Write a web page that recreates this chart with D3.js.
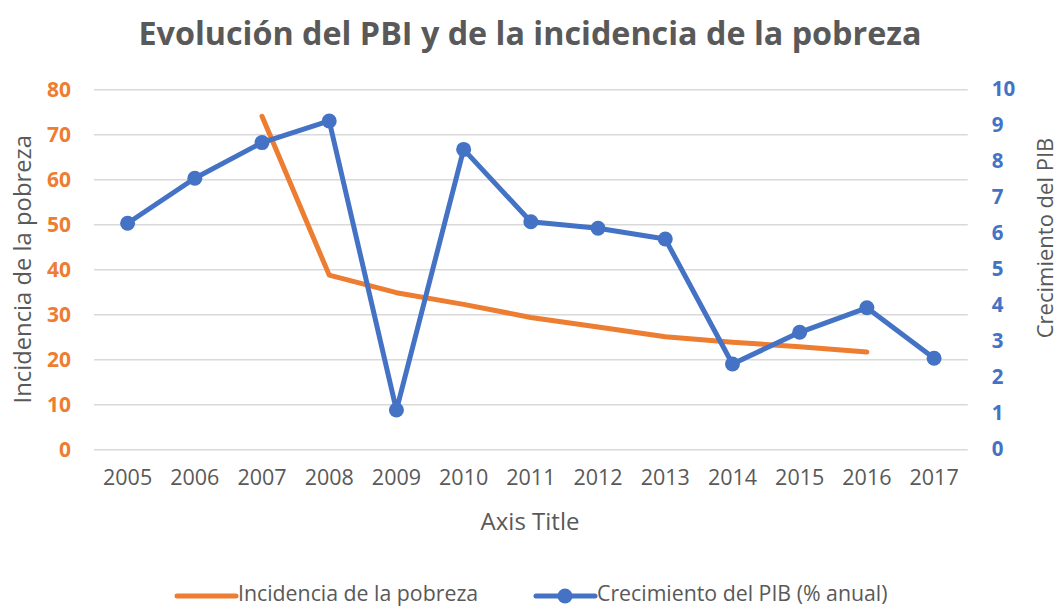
<!DOCTYPE html>
<html><head><meta charset="utf-8">
<script src="https://cdn.jsdelivr.net/npm/d3@7"></script>
<style>
body{margin:0;background:#fff;}
svg{display:block;font-family:"Open Sans",sans-serif;}
</style></head>
<body><svg id="chart" width="1060" height="607"></svg>
<script>
const years = ["2005","2006","2007","2008","2009","2010","2011","2012","2013","2014","2015","2016","2017"];
const pobreza = [null,null,74,38.7,34.8,32.2,29.3,27.2,25.0,23.8,22.8,21.6,null];
const pib = [6.28,7.53,8.52,9.12,1.09,8.33,6.32,6.14,5.84,2.37,3.25,3.93,2.53];
const leftTicks = [0,10,20,30,40,50,60,70,80];
const rightTicks = [0,1,2,3,4,5,6,7,8,9,10];
const title = "Evolución del PBI y de la incidencia de la pobreza";
const leftTitle = "Incidencia de la pobreza";
const rightTitle = "Crecimiento del PIB";
const xTitle = "Axis Title";
const seriesNames = ["Incidencia de la pobreza","Crecimiento del PIB (% anual)"];

const ORANGE="#ED7D31", BLUE="#4472C4", GRAY="#595959", GRID="#D9D9D9";
const svg = d3.select("#chart");
const L=94, R=967.7, T=89.3, B=449.3;

const x = d3.scaleBand().domain(years).range([L,R]);
const yL = d3.scaleLinear().domain([0,80]).range([B,T]);
const yR = d3.scaleLinear().domain([0,10]).range([B,T]);

// title
svg.append("text").attr("x",530).attr("y",45).attr("text-anchor","middle")
  .attr("font-size",32.3).attr("font-weight","bold").attr("fill",GRAY).text(title);

// gridlines
const grid = svg.append("g").attr("transform",`translate(${L},0)`)
  .call(d3.axisLeft(yL).tickValues(leftTicks).tickSize(-(R-L)).tickFormat(""));
grid.select(".domain").remove();
grid.selectAll("line").attr("stroke",GRID).attr("stroke-width",1.5);

// left axis labels
const la = svg.append("g").attr("transform",`translate(${L},0)`)
  .call(d3.axisLeft(yL).tickValues(leftTicks).tickSize(0).tickPadding(23));
la.select(".domain").remove();
la.selectAll("text").attr("fill",ORANGE).attr("font-size",21).attr("font-weight","bold")
  .attr("font-family","Open Sans");

// right axis labels
const ra = svg.append("g").attr("transform",`translate(${R},0)`)
  .call(d3.axisRight(yR).tickValues(rightTicks).tickSize(0).tickPadding(24));
ra.select(".domain").remove();
ra.selectAll("text").attr("fill",BLUE).attr("font-size",20.5).attr("font-weight","bold")
  .attr("font-family","Open Sans");

// x axis labels
const xa = svg.append("g").attr("transform",`translate(0,${B})`)
  .call(d3.axisBottom(x).tickSize(0).tickPadding(20));
xa.select(".domain").remove();
xa.selectAll("text").attr("fill",GRAY).attr("font-size",21.5).attr("font-family","Open Sans");

// axis titles
svg.append("text").attr("transform",`translate(31,${(T+B)/2}) rotate(-90)`)
  .attr("text-anchor","middle").attr("font-size",23.8).attr("fill",GRAY).text(leftTitle);
svg.append("text").attr("transform",`translate(1053,238) rotate(-90)`)
  .attr("text-anchor","middle").attr("font-size",22).attr("fill",GRAY).text(rightTitle);
svg.append("text").attr("x",530).attr("y",530).attr("text-anchor","middle")
  .attr("font-size",24).attr("fill",GRAY).text(xTitle);

const cx = d => x(d) + x.bandwidth()/2;

// orange line
const lineL = d3.line().defined(d=>d.v!=null).x(d=>cx(d.year)).y(d=>yL(d.v));
svg.append("path").datum(years.map((y,i)=>({year:y,v:pobreza[i]})))
  .attr("d",lineL).attr("fill","none").attr("stroke",ORANGE).attr("stroke-width",5)
  .attr("stroke-linecap","round").attr("stroke-linejoin","round");

// blue line
const pibData = years.map((y,i)=>({year:y,v:pib[i]}));
const lineR = d3.line().x(d=>cx(d.year)).y(d=>yR(d.v));
svg.append("path").datum(pibData).attr("d",lineR).attr("fill","none")
  .attr("stroke",BLUE).attr("stroke-width",5).attr("stroke-linejoin","round");
svg.selectAll("circle.pt").data(pibData).enter().append("circle").attr("class","pt")
  .attr("cx",d=>cx(d.year)).attr("cy",d=>yR(d.v)).attr("r",7.5).attr("fill",BLUE);

// legend
const lg = svg.append("g");
lg.append("line").attr("x1",177).attr("x2",236).attr("y1",596).attr("y2",596)
  .attr("stroke",ORANGE).attr("stroke-width",5).attr("stroke-linecap","round");
lg.append("text").attr("x",238).attr("y",601).attr("font-size",21.3).attr("fill",GRAY).text(seriesNames[0]);
lg.append("line").attr("x1",536).attr("x2",595).attr("y1",596).attr("y2",596)
  .attr("stroke",BLUE).attr("stroke-width",5).attr("stroke-linecap","round");
lg.append("circle").attr("cx",565).attr("cy",596).attr("r",7.5).attr("fill",BLUE);
lg.append("text").attr("x",597).attr("y",601).attr("font-size",21.3).attr("fill",GRAY).text(seriesNames[1]);
</script></body></html>
